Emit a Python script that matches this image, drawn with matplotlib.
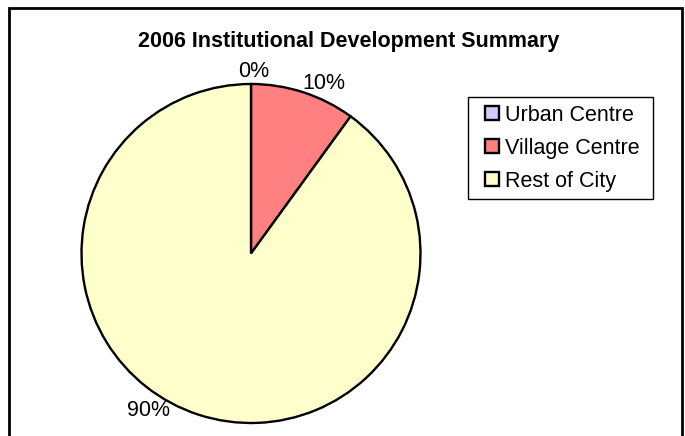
import matplotlib
matplotlib.use("Agg")
import matplotlib.pyplot as plt
from matplotlib.patches import Rectangle
import numpy as np

plt.rcParams['font.family'] = ['Liberation Sans', 'DejaVu Sans']

title = "2006 Institutional Development Summary"
categories = ["Urban Centre", "Village Centre", "Rest of City"]
values = [0, 10, 90]
pct_labels = ["0%", "10%", "90%"]
colors = ["#CCCCFF", "#FF8080", "#FFFFCC"]

W, H = 685, 436
fig = plt.figure(figsize=(W / 100, H / 100), dpi=100)
fig.patch.set_facecolor("white")

# outer chart border (open at bottom as in reference)
fig.patches.append(Rectangle((9 / W, -0.05), (682 - 9) / W, 1.05 - 8 / H,
                             transform=fig.transFigure, fill=False,
                             edgecolor="black", linewidth=2.0, zorder=10))

fs = 15.5
fig.text(348.5 / W, 1 - 41.5 / H, title, ha="center", va="center",
         fontsize=fs, fontweight="bold")

cx, cy, r = 251, 253.5, 169.5
ax = fig.add_axes([(cx - r) / W, 1 - (cy + r) / H, 2 * r / W, 2 * r / H])
wedges, _ = ax.pie(values, colors=colors, startangle=90, counterclock=False,
                   wedgeprops=dict(edgecolor="black", linewidth=1.7),
                   radius=1.0)
ax.set_xlim(-1, 1)
ax.set_ylim(-1, 1)
ax.set_aspect("equal")
ax.axis("off")

# label placement (Excel-like outside-end positions)
angle_offsets = [-1.0, -5.3, -15.0]
dists = [1.075, 1.09, 1.105]
for w, lab, off, d in zip(wedges, pct_labels, angle_offsets, dists):
    mid = np.deg2rad((w.theta1 + w.theta2) / 2 + off)
    ax.text(d * np.cos(mid), d * np.sin(mid), lab, ha="center", va="center",
            fontsize=fs, clip_on=False)

leg = fig.legend(wedges, categories, loc="upper left",
                 bbox_to_anchor=(477.5 / W, 1 - 97 / H), fontsize=fs,
                 frameon=False,
                 handlelength=0.65, handleheight=0.65, handletextpad=0.3,
                 labelspacing=0.56, borderpad=0.35, borderaxespad=0.0)

# legend frame with wider horizontal padding (Excel style)
fig.canvas.draw()
bb = leg.get_window_extent().transformed(fig.transFigure.inverted())
padx_l, padx_r = 10 / W, 5 / W
fig.patches.append(Rectangle((bb.x0 - padx_l, bb.y0), bb.width + padx_l + padx_r,
                             bb.height, transform=fig.transFigure, fill=False,
                             edgecolor="black", linewidth=1.0, zorder=5))

fig.savefig("out.png", dpi=100, facecolor="white")
